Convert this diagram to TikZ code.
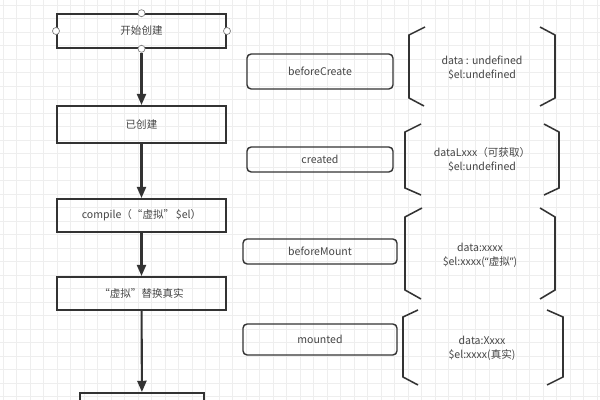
\documentclass[tikz,border=0pt]{standalone}
\usepackage{fontspec}
\setmainfont{Noto Sans CJK SC}
\newfontfamily\latinfont{Noto Sans}
\usetikzlibrary{positioning, arrows.meta}
\definecolor{linegray}{RGB}{51,51,51}
\definecolor{textgray}{RGB}{70,70,70}
\definecolor{gridgray}{RGB}{238,238,238}

\begin{document}
\begin{tikzpicture}[x=0.025cm, y=-0.025cm,
  every node/.style={font=\fontsize{7.5}{10}\selectfont, text=textgray},
  stage/.style={draw=linegray, line width=1.4pt, minimum width=4.225cm, align=center, inner sep=0pt},
  hook/.style={draw=linegray, line width=1pt, rounded corners=3pt, align=center, inner sep=0pt},
  info/.style={align=center, inner sep=0pt},
  brk/.style={draw=linegray, line width=1.1pt},
  flow/.style={draw=linegray, line width=1.5pt, -{Triangle[length=8pt, width=6.5pt]}},
  port/.style={circle, draw=gray, fill=white, line width=0.5pt, inner sep=0pt, minimum size=5pt}]
 \useasboundingbox (0,0) rectangle (600,400);
 \clip (0,0) rectangle (600,400);
 \fill[white] (0,0) rectangle (600,400);
 % grid
 \foreach \gx in {3,16.5,...,600} \draw[gridgray, line width=0.5pt] (\gx,0) -- (\gx,400);
 \foreach \gy in {5,18.5,...,400} \draw[gridgray, line width=0.5pt] (0,\gy) -- (600,\gy);

 % left column
 \node[stage, minimum height=0.84cm]  (start)   at (141.5,31)    {开始创建};
 \node[stage, minimum height=0.925cm] (created) at (141.5,124.5) {已创建};
 \node[stage, minimum height=0.825cm] (compile) at (141.5,215.5) {compile（“虚拟”\,\$el）};
 \node[stage, minimum height=0.825cm] (replace) at (141.5,293.5) {“虚拟”替换真实};
 \node[stage, minimum width=3.1cm, minimum height=0.85cm] (next) at (142,410) {};
 \foreach \p in {north, south, east, west} \node[port] (start-\p) at (start.\p) {};

 \draw[flow] (start-south) -- (created);
 \draw[flow] (created) -- (compile);
 \draw[flow] (compile) -- (replace);
 \draw[flow] (replace) -- (next);

 % hooks
 \node[hook, minimum width=3.65cm, minimum height=0.875cm] (bc) at (320,71.5)  {beforeCreate};
 \node[hook, minimum width=3.65cm, minimum height=0.625cm] (cr) at (320,159.5) {created};
 \node[hook, minimum width=3.85cm, minimum height=0.625cm] (bm) at (320,251.5) {beforeMount};
 \node[hook, minimum width=3.85cm, minimum height=0.775cm] (mo) at (320,339.5) {mounted};

 % data state
 \node[info] (s1) at (482,68)  {data : undefined\\\$el:undefined};
 \node[info] (s2) at (482,160) {dataLxxx（可获取）\\\$el:undefined};
 \node[info] (s3) at (480,255) {data:xxxx\\\$el:xxxx({\latinfont“}虚拟{\latinfont”})};
 \node[info] (s4) at (482,348) {data:Xxxx\\\$el:xxxx(真实)};

 \draw[brk] (425,27) -- (409,35) -- (409,98) -- (424,106);
 \draw[brk] (540,27) -- (555,35) -- (555,98) -- (540,106);
 \draw[brk] (421,124) -- (405,132) -- (405,188) -- (421,195);
 \draw[brk] (544,124) -- (559,132) -- (559,188) -- (544,195);
 \draw[brk] (422,208) -- (405,217) -- (405,290) -- (421,299);
 \draw[brk] (540,208) -- (555,217) -- (555,290) -- (540,299);
 \draw[brk] (418,310) -- (403,317) -- (403,377) -- (418,385);
 \draw[brk] (547,310) -- (563,317) -- (563,377) -- (547,385);
\end{tikzpicture}
\end{document}
